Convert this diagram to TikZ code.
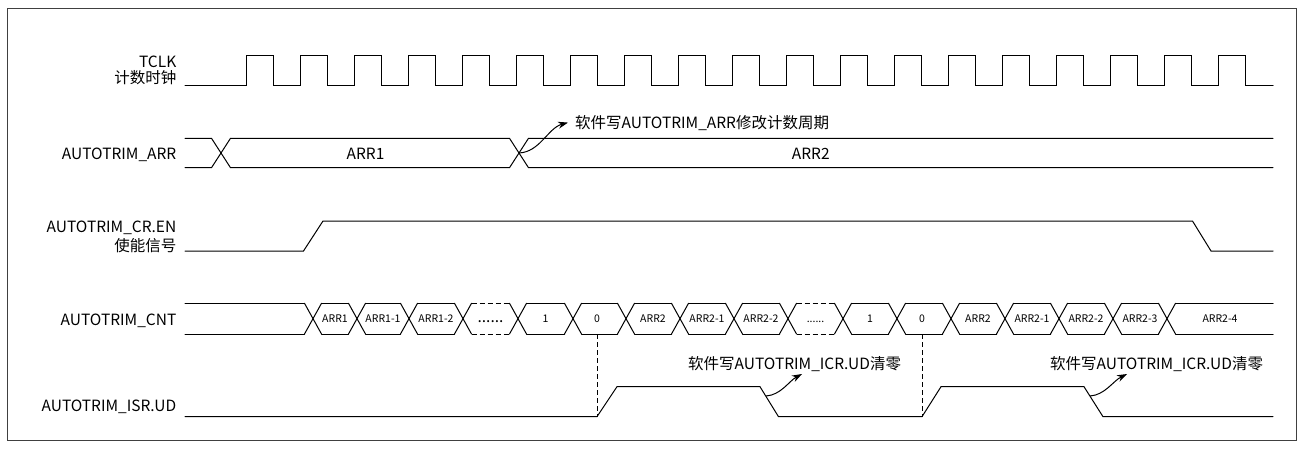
\documentclass[tikz,border=0pt]{standalone}
\usepackage{fontspec}
\setmainfont{Noto Sans CJK SC}
\usetikzlibrary{arrows.meta,calc}
\begin{document}
\begin{tikzpicture}[x=1pt,y=-1pt,
  sig/.style={line width=1pt, line cap=round, line join=miter},
  lbl/.style={anchor=base east, inner sep=0pt, font=\fontsize{15.5}{18}\selectfont},
  big/.style={anchor=base, inner sep=0pt, font=\fontsize{15.5}{18}\selectfont},
  small/.style={anchor=base, inner sep=0pt, font=\fontsize{10.5}{12}\selectfont},
  note/.style={anchor=base west, inner sep=0pt, font=\fontsize{15.5}{18}\selectfont},
  guide/.style={line width=0.9pt, dash pattern=on 5pt off 3pt},
  callout/.style={line width=1pt, -{Stealth[length=10pt,width=7pt]}}
]
\useasboundingbox (0,0) rectangle (1302,448);
\draw[line width=1.2pt, black!75] (7.3,8.3) rectangle (1296.7,440.5);

% row labels
\node[lbl] (lclk) at (176.5,67) {TCLK};
\node[lbl] (lclkcn) at (176.5,83) {计数时钟};
\node[lbl] (larr) at (176.5,159.5) {AUTOTRIM\_ARR};
\node[lbl] (len) at (176.5,232.5) {AUTOTRIM\_CR.EN};
\node[lbl] (lencn) at (176.5,251) {使能信号};
\node[lbl] (lcnt) at (176.5,325) {AUTOTRIM\_CNT};
\node[lbl] (lisr) at (176.5,411.7) {AUTOTRIM\_ISR.UD};

% clock
\draw[sig] (185,85) foreach \k in {0,...,18} { -- ({246+54*\k},85) -- ({246+54*\k},55) -- ({273+54*\k},55) -- ({273+54*\k},85) } -- (1273,85);

% ARR bus
\draw[sig] (185,138.3) -- (211.5,138.3) -- (230.5,167.7) -- (509.5,167.7) -- (528.5,138.3) -- (1273,138.3);
\draw[sig] (185,167.7) -- (211.5,167.7) -- (230.5,138.3) -- (509.5,138.3) -- (528.5,167.7) -- (1273,167.7);
\node[big] (arr1) at (365.5,159) {ARR1};
\node[big] (arr2) at (810.8,159) {ARR2};
\coordinate (xarr) at (519,153);
\node[note] (narr) at (575,128) {软件写AUTOTRIM\_ARR修改计数周期};
\draw[callout] (xarr) .. controls (540,152) and (548,128) .. ([xshift=-7pt]narr.west);

% EN
\draw[sig] (185,251) -- (303.5,251) -- (323,221) -- (1192.5,221) -- (1211,251) -- (1273,251);

% CNT bus
\def\cT{303.3}
\def\cB{334}
\def\hw{8.5}
\draw[sig] (185,\cT) -- ({313-\hw},\cT) (185,\cB) -- ({313-\hw},\cB);
\foreach \c in {313,357,409,463,518,573,626,680,734,788,843,897,951,1005,1059,1113,1167}
  \draw[sig] ({\c-\hw},\cT) -- ({\c+\hw},\cB) ({\c-\hw},\cB) -- ({\c+\hw},\cT);
\foreach \a/\b in {313/357,357/409,409/463,518/573,573/626,626/680,680/734,734/788,843/897,897/951,951/1005,1005/1059,1059/1113,1113/1167}
  \draw[sig] ({\a+\hw},\cT) -- ({\b-\hw},\cT) ({\a+\hw},\cB) -- ({\b-\hw},\cB);
\foreach \a/\b in {463/518,788/843}
  \draw[guide] ({\a+\hw},\cT) -- ({\b-\hw},\cT) ({\a+\hw},\cB) -- ({\b-\hw},\cB);
\draw[sig] ({1167+\hw},\cT) -- (1273,\cT) ({1167+\hw},\cB) -- (1273,\cB);

\node[small] (c1) at (335,322.8) {ARR1};
\node[small] (c2) at (383,322.8) {ARR1-1};
\node[small] (c3) at (436,322.8) {ARR1-2};
\node[big] (c4) at (490.5,322.8) {......};
\node[small] (c5) at (545.5,322.8) {1};
\node[small] (c6) at (597,322.8) {0};
\node[small] (c7) at (653,322.8) {ARR2};
\node[small] (c8) at (707,322.8) {ARR2-1};
\node[small] (c9) at (761,322.8) {ARR2-2};
\node[small] (c10) at (815.5,322.8) {......};
\node[small] (c11) at (870,322.8) {1};
\node[small] (c12) at (922,322.8) {0};
\node[small] (c13) at (978,322.8) {ARR2};
\node[small] (c14) at (1032,322.8) {ARR2-1};
\node[small] (c15) at (1086,322.8) {ARR2-2};
\node[small] (c16) at (1140,322.8) {ARR2-3};
\node[small] (c17) at (1220,322.8) {ARR2-4};

% ISR
\draw[sig] (185,416.7) -- (597,416.7) -- (617,386.7) -- (760,386.7) -- (778.5,416.7) -- (922,416.7) -- (941,386.7) -- (1084,386.7) -- (1103,416.7) -- (1273,416.7);
\coordinate (d1t) at (597,334);
\coordinate (d1b) at (597,416.7);
\coordinate (d2t) at (922,334);
\coordinate (d2b) at (922,416.7);
\draw[guide] (d1t) -- (d1b);
\draw[guide] (d2t) -- (d2b);

\node[note] (nicr1) at (688,369) {软件写AUTOTRIM\_ICR.UD清零};
\node[note] (nicr2) at (1050,369) {软件写AUTOTRIM\_ICR.UD清零};
\coordinate (f1) at (766,396);
\coordinate (t1) at (802,374);
\coordinate (f2) at (1090,396);
\coordinate (t2) at (1127,374);
\draw[callout] (f1) .. controls (781,395) and (789,381) .. (t1);
\draw[callout] (f2) .. controls (1105,395) and (1113,381) .. (t2);
\end{tikzpicture}
\end{document}
